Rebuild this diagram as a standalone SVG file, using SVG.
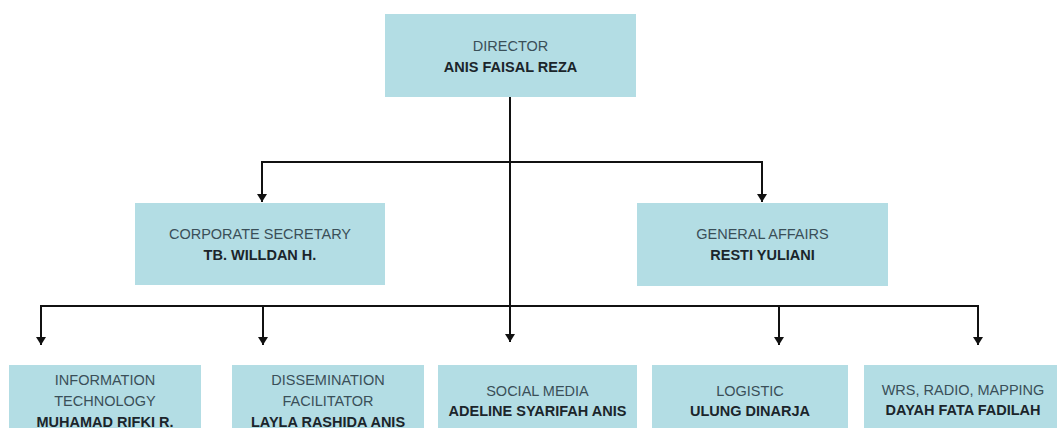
<svg xmlns="http://www.w3.org/2000/svg" width="1057" height="428" viewBox="0 0 1057 428">
<defs>
<style>
.box{fill:#b3dde4}
.t{font-family:"Liberation Sans",Arial,sans-serif;font-size:14.5px;text-anchor:middle}
.r{fill:#3a4f58}
.b{fill:#1b252b;font-weight:bold}
.ln{stroke:#111;stroke-width:2;fill:none}
.ar{stroke:#111;stroke-width:2;fill:none;marker-end:url(#ah)}
</style>
<marker id="ah" markerUnits="userSpaceOnUse" markerWidth="8" markerHeight="10" refX="8" refY="5" orient="auto" viewBox="0 0 8 10">
<path d="M0,0 L8,5 L0,10 Z" fill="#111"/>
</marker>
</defs>
<rect width="1057" height="428" fill="#ffffff"/>
<g id="connectors">
<path class="ln" d="M510,97 V306"/>
<path class="ln" d="M261,162 H763"/>
<path class="ln" d="M40,306 H979"/>
<path class="ar" d="M262,161 V202"/>
<path class="ar" d="M762,161 V202"/>
<path class="ar" d="M41,305 V345"/>
<path class="ar" d="M263,306 V345"/>
<path class="ar" d="M510,306 V342"/>
<path class="ar" d="M779,306 V345"/>
<path class="ar" d="M978,305 V345"/>
</g>
<g id="director">
<rect class="box" x="385" y="14" width="251" height="83"/>
<text class="t r" x="510.5" y="51">DIRECTOR</text>
<text class="t b" x="510.5" y="72">ANIS FAISAL REZA</text>
</g>
<g id="corporate-secretary">
<rect class="box" x="135" y="203" width="250" height="82"/>
<text class="t r" x="260" y="239">CORPORATE SECRETARY</text>
<text class="t b" x="260" y="260">TB. WILLDAN H.</text>
</g>
<g id="general-affairs">
<rect class="box" x="637" y="203" width="251" height="83"/>
<text class="t r" x="762.5" y="239">GENERAL AFFAIRS</text>
<text class="t b" x="762.5" y="260">RESTI YULIANI</text>
</g>
<g id="information-technology">
<rect class="box" x="9" y="365" width="192" height="80"/>
<text class="t r" x="105" y="385">INFORMATION</text>
<text class="t r" x="105" y="406">TECHNOLOGY</text>
<text class="t b" x="105" y="427">MUHAMAD RIFKI R.</text>
</g>
<g id="dissemination-facilitator">
<rect class="box" x="232" y="365" width="192" height="80"/>
<text class="t r" x="328" y="385">DISSEMINATION</text>
<text class="t r" x="328" y="406">FACILITATOR</text>
<text class="t b" x="328" y="427">LAYLA RASHIDA ANIS</text>
</g>
<g id="social-media">
<rect class="box" x="438" y="365" width="199" height="80"/>
<text class="t r" x="537.5" y="396">SOCIAL MEDIA</text>
<text class="t b" x="537.5" y="416">ADELINE SYARIFAH ANIS</text>
</g>
<g id="logistic">
<rect class="box" x="652" y="365" width="196" height="80"/>
<text class="t r" x="750" y="396">LOGISTIC</text>
<text class="t b" x="750" y="416">ULUNG DINARJA</text>
</g>
<g id="wrs-radio-mapping">
<rect class="box" x="864" y="365" width="198" height="80"/>
<text class="t r" x="963" y="395">WRS, RADIO, MAPPING</text>
<text class="t b" x="963" y="415">DAYAH FATA FADILAH</text>
</g>
</svg>
